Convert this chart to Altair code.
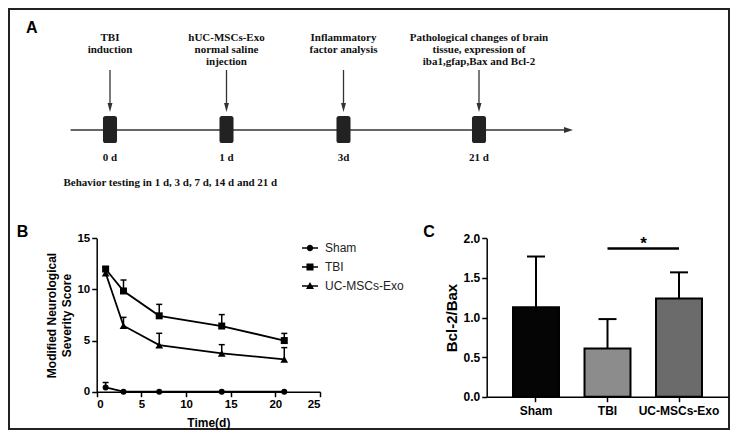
import altair as alt
import pandas as pd

# ---------------- data ----------------
# Panel A: experimental timeline
event_days = [0, 1, 3, 21]
event_day_labels = ["0 d", "1 d", "3d", "21 d"]
event_texts = [
    ["TBI", "induction"],
    ["hUC-MSCs-Exo", "normal saline", "injection"],
    ["Inflammatory", "factor analysis"],
    ["Pathological changes of brain", "tissue, expression of", "iba1,gfap,Bax and Bcl-2"],
]
timeline_span = [-0.33, 33.0]
behavior_caption = "Behavior testing in 1 d, 3 d, 7 d, 14 d and 21 d"

# Panel B: mNSS over time
days = [1, 3, 7, 14, 21]
groups = ["Sham", "TBI", "UC-MSCs-Exo"]
sham_mean = [0.42, 0.0, 0.0, 0.0, 0.0]
sham_sd = [0.48, 0.0, 0.0, 0.0, 0.0]
tbi_mean = [12.0, 9.85, 7.42, 6.42, 5.0]
tbi_sd = [0.22, 1.07, 1.12, 1.12, 0.7]
uc_mean = [11.6, 6.45, 4.56, 3.75, 3.16]
uc_sd = [0.2, 0.82, 1.15, 0.85, 1.15]

# Panel C: Bcl-2/Bax ratio
ratio_mean = [1.13, 0.61, 1.24]
ratio_sd = [0.64, 0.37, 0.33]
sig_pair = ["TBI", "UC-MSCs-Exo"]
sig_level = 1.87
sig_label = "*"

# ---------------- helpers / styles ----------------
OFF = 8  # page margin
W, H = 722, 422


def P(v):
    return v - OFF


SANS = "Liberation Sans"
SERIF = "Liberation Serif"
BAR_FILLS = {"Sham": "#050505", "TBI": "#8c8c8c", "UC-MSCs-Exo": "#6b6b6b"}

# ---------------- Panel A ----------------
events_df = pd.DataFrame({"day": event_days, "label": event_day_labels, "lines": event_texts})
span_df = pd.DataFrame({"start": [timeline_span[0]], "end": [timeline_span[1]]})
caption_df = pd.DataFrame({"text": [behavior_caption]})

a_scale = alt.Scale(
    domain=[timeline_span[0]] + event_days + [timeline_span[1]],
    range=[P(70.6), P(110), P(226.5), P(343.5), P(479), P(568.5)],
    zero=False, nice=False,
)

ax = alt.X("day:Q", scale=a_scale, axis=None)

timeline = alt.Chart(span_df).mark_rule(color="#333333", strokeWidth=1.6).encode(
    x=alt.X("start:Q", scale=a_scale, axis=None), x2="end:Q", y=alt.value(P(130))
)
timeline_head = alt.Chart(span_df).mark_point(
    shape="M-1,-0.65L1,0L-1,0.65Z", size=81, filled=True, color="#333333", opacity=1
).encode(x=alt.X("end:Q", scale=a_scale, axis=None), y=alt.value(P(130)))

event_arrows = alt.Chart(events_df).mark_rule(color="#333333", strokeWidth=1.3).encode(
    x=ax, y=alt.value(P(70)), y2=alt.value(P(106))
)
event_heads = alt.Chart(events_df).mark_point(
    shape="M-0.55,-1L0,1L0.55,-1Z", size=81, filled=True, color="#333333", opacity=1
).encode(x=ax, y=alt.value(P(107.5)))

box_path = ("M-0.52,-0.81Q-0.52,-1,-0.33,-1L0.33,-1Q0.52,-1,0.52,-0.81L0.52,0.81"
            "Q0.52,1,0.33,1L-0.33,1Q-0.52,1,-0.52,0.81Z")
event_boxes = alt.Chart(events_df).mark_point(
    shape=box_path, size=729, filled=True, color="#222222", opacity=1
).encode(x=ax, y=alt.value(P(129.5)))

event_titles = alt.Chart(events_df).mark_text(
    font=SERIF, fontWeight="bold", fontSize=11, lineHeight=12,
    baseline="middle", align="center", color="#111111",
).encode(x=ax, y=alt.value(P(37.5)), text="lines:N")

event_days_txt = alt.Chart(events_df).mark_text(
    font=SERIF, fontWeight="bold", fontSize=11, baseline="middle", align="center", color="#111111",
).encode(x=ax, y=alt.value(P(158)), text="label:N")

caption = alt.Chart(caption_df).mark_text(
    font=SERIF, fontWeight="bold", fontSize=11, baseline="middle", align="left", color="#111111",
).encode(x=alt.value(P(63.5)), y=alt.value(P(183)), text="text:N")


def panel_letter(letter, x, y):
    return alt.Chart(pd.DataFrame({"t": [letter]})).mark_text(
        font=SANS, fontWeight="bold", fontSize=16, align="left", baseline="alphabetic", color="black"
    ).encode(x=alt.value(P(x)), y=alt.value(P(y)), text="t:N")


panel_a = alt.layer(
    timeline, event_arrows, event_heads, event_boxes, timeline_head,
    event_titles, event_days_txt, caption,
    panel_letter("A", 26, 33), panel_letter("B", 16.7, 236.7), panel_letter("C", 423.3, 236.7),
)

# ---------------- Panel B ----------------
rows = []
for g, m, s in zip(groups, [sham_mean, tbi_mean, uc_mean], [sham_sd, tbi_sd, uc_sd]):
    for d, mv, sv in zip(days, m, s):
        rows.append({"group": g, "day": d, "mean": mv, "upper": mv + sv, "sd": sv})
b_df = pd.DataFrame(rows)

bx = alt.Scale(domain=[0, 25], range=[P(96.7), P(320)], nice=False, zero=False)
by = alt.Scale(domain=[0, 15], range=[P(391.7), P(238.3)], nice=False, zero=False)

axis_common = dict(
    grid=False, domainColor="black", domainWidth=1.5, tickColor="black", tickWidth=1.5,
    tickSize=5, labelFont=SANS, labelFontWeight="bold", labelColor="black",
    titleFont=SANS, titleFontWeight="bold", titleColor="black",
)

b_x_axis = alt.Axis(
    orient="bottom", offset=P(391.7) - H, values=[0, 5, 10, 15, 20, 25],
    labelFontSize=11.5, labelPadding=2, title="Time(d)", titleFontSize=12, titlePadding=7,
    **axis_common,
)
b_y_axis = alt.Axis(
    orient="left", offset=-P(96.7), values=[0, 5, 10, 15],
    labelFontSize=11.5, labelPadding=2,
    title=["Modified Neurological", "Severity Score"], titleFontSize=12, titleLineHeight=15,
    titleX=58.5 - 96.7, titleY=P(315), titleAngle=270, titleAlign="center", titleBaseline="bottom",
    **axis_common,
)

b_base = alt.Chart(b_df)
bX = alt.X("day:Q", scale=bx)
bY = alt.Y("mean:Q", scale=by)
b_lines = b_base.mark_line(color="black", strokeWidth=1.8).encode(
    x=alt.X("day:Q", scale=bx, axis=b_x_axis),
    y=alt.Y("mean:Q", scale=by, axis=b_y_axis),
    detail="group:N",
)
b_err = b_base.transform_filter("datum.sd > 0").mark_rule(color="black", strokeWidth=1.5).encode(
    x=bX, y=bY, y2="upper:Q"
)
b_caps = b_base.transform_filter("datum.sd > 0").mark_tick(
    orient="horizontal", size=6, thickness=1.5, color="black", opacity=1
).encode(x=bX, y=alt.Y("upper:Q", scale=by))

marker_shapes = {"Sham": ("circle", 36), "TBI": ("square", 49), "UC-MSCs-Exo": ("triangle-up", 60)}
b_points = [
    b_base.transform_filter(alt.datum.group == g).mark_point(
        shape=shp, size=sz, filled=True, color="black", opacity=1
    ).encode(x=bX, y=bY)
    for g, (shp, sz) in marker_shapes.items()
]

# legend glyphs: a short filled bar (the line) plus the group's marker, all filled
legend_paths = [
    "M-1,-0.1H1V0.1H-1ZM0.4,0A0.4,0.4,0,1,1,-0.4,0A0.4,0.4,0,1,1,0.4,0Z",
    "M-1,-0.1H1V0.1H-1ZM-0.44,-0.44H0.44V0.44H-0.44Z",
    "M-1,-0.1H1V0.1H-1ZM0,-0.5L0.5,0.38H-0.5Z",
]
b_legend = b_base.transform_filter("false").mark_point(
    filled=True, color="black", size=256, opacity=1, strokeWidth=0
).encode(
    x=bX, y=bY,
    shape=alt.Shape(
        "group:N",
        scale=alt.Scale(domain=groups, range=legend_paths),
        legend=alt.Legend(
            orient="none", legendX=P(302), legendY=P(240), title=None, padding=0,
            labelFont=SANS, labelFontSize=12, labelColor="#222222", labelOffset=7,
            symbolSize=256, symbolStrokeWidth=0, symbolOpacity=1, rowPadding=5,
        ),
    ),
)

panel_b = alt.layer(b_lines, b_err, b_caps, *b_points, b_legend)

# ---------------- Panel C ----------------
c_df = pd.DataFrame({
    "condition": groups, "ratio": ratio_mean,
    "ratio_upper": [m + s for m, s in zip(ratio_mean, ratio_sd)],
})
sig_df = pd.DataFrame({"g1": [sig_pair[0]], "g2": [sig_pair[1]], "level": [sig_level], "t": [sig_label]})

cx = alt.Scale(domain=groups, range=[P(486.7), P(728.3)], paddingInner=0.357, paddingOuter=0.368)
cy = alt.Scale(domain=[0, 2], range=[P(396.7), P(238.3)], nice=False, zero=True)

c_x_axis = alt.Axis(
    orient="bottom", offset=P(396.7) - H, labelFontSize=12, labelPadding=4, labelAngle=0,
    title=None, **axis_common,
)
c_y_axis = alt.Axis(
    orient="left", offset=-P(486.7), values=[0, 0.5, 1, 1.5, 2], format=".1f",
    labelFontSize=12, labelPadding=2, title="Bcl-2/Bax", titleFontSize=15, titlePadding=4,
    **axis_common,
)

cX = alt.X("condition:N", scale=cx, sort=groups)
c_bars = []
for i, g in enumerate(groups):
    enc = dict(
        x=alt.X("condition:N", scale=cx, axis=c_x_axis, sort=groups) if i == 0 else cX,
        y=alt.Y("ratio:Q", scale=cy, axis=c_y_axis) if i == 0 else alt.Y("ratio:Q", scale=cy),
    )
    c_bars.append(
        alt.Chart(c_df).transform_filter(alt.datum.condition == g)
        .mark_bar(stroke="black", strokeWidth=2, fill=BAR_FILLS[g]).encode(**enc)
    )
c_err = alt.Chart(c_df).mark_rule(color="black", strokeWidth=2).encode(
    x=cX, y=alt.Y("ratio:Q", scale=cy), y2="ratio_upper:Q"
)
c_caps = alt.Chart(c_df).mark_tick(orient="horizontal", size=18, thickness=2, color="black", opacity=1).encode(
    x=cX, y=alt.Y("ratio_upper:Q", scale=cy)
)
c_sig = alt.Chart(sig_df).mark_rule(color="black", strokeWidth=2.5).encode(
    x=alt.X("g1:N", scale=cx), x2="g2:N", y=alt.Y("level:Q", scale=cy)
)
c_star = alt.Chart(sig_df).mark_text(
    font=SANS, fontWeight="bold", fontSize=17, baseline="alphabetic", align="center", dx=36, dy=0,
    color="black",
).encode(x=alt.X("g1:N", scale=cx), y=alt.Y("level:Q", scale=cy), text="t:N")

panel_c = alt.layer(*c_bars, c_err, c_caps, c_sig, c_star)

# ---------------- compose ----------------
chart = alt.layer(panel_a, panel_b, panel_c).resolve_scale(
    x="independent", y="independent"
).properties(
    width=W, height=H, padding=0, autosize="none", background="white"
).configure_view(stroke="#222222", strokeWidth=4)

chart.save("out.html", embed_options={"renderer": "svg", "actions": False})
